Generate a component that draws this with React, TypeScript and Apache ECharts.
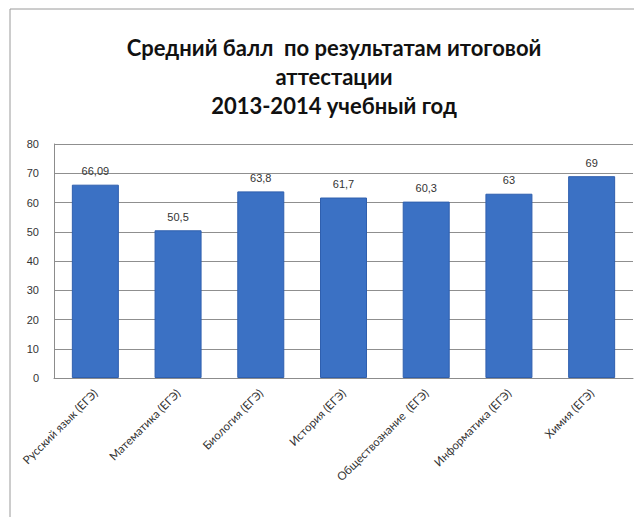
import React, { useEffect, useRef } from "react";
import * as echarts from "echarts";

const categories = [
  "Русский язык (ЕГЭ)",
  "Математика (ЕГЭ)",
  "Биология (ЕГЭ)",
  "История (ЕГЭ)",
  "Обществознание  (ЕГЭ)",
  "Информатика (ЕГЭ)",
  "Химия (ЕГЭ)",
];
const values = [66.09, 50.5, 63.8, 61.7, 60.3, 63, 69];
const valueLabels = ["66,09", "50,5", "63,8", "61,7", "60,3", "63", "69"];
const titleLines = [
  "Средний балл  по результатам итоговой",
  "аттестации",
  "2013-2014 учебный год",
];

export default function App() {
  const ref = useRef<HTMLDivElement>(null);
  useEffect(() => {
    document.body.style.margin = "0";
    const chart = echarts.init(ref.current!, null, { renderer: "svg" });
    chart.setOption({
      animation: false,
      backgroundColor: "#ffffff",
      title: {
        text: titleLines.join("\n"),
        left: 329,
        top: 28,
        textAlign: "center",
        textStyle: {
          fontFamily: "Lato",
          fontWeight: "bold",
          fontSize: 22,
          lineHeight: 29,
          color: "#111111",
        },
      },
      graphic: [
        {
          type: "polyline",
          shape: { points: [[10, 517], [10, 9], [634, 9]] },
          style: { stroke: "#9a9a9a", lineWidth: 1, fill: "none" },
          silent: true,
        },
      ],
      grid: { left: 54, right: 1, top: 144, bottom: 139 },
      xAxis: {
        type: "category",
        data: categories,
        axisLine: { show: true, lineStyle: { color: "#8c8c8c" } },
        axisTick: { show: false },
        axisLabel: {
          rotate: 45,
          interval: 0,
          margin: 13,
          fontFamily: "Lato",
          fontSize: 11.5,
          color: "#333333",
        },
      },
      yAxis: {
        type: "value",
        min: 0,
        max: 80,
        interval: 10,
        axisLine: { show: true, lineStyle: { color: "#8c8c8c" } },
        axisTick: { show: false },
        axisLabel: {
          margin: 15,
          fontFamily: "Liberation Sans",
          fontSize: 11,
          color: "#333333",
        },
        splitLine: { show: true, lineStyle: { color: "#8f8f8f", width: 1 } },
      },
      series: [
        {
          type: "bar",
          data: values,
          barWidth: 47,
          itemStyle: { color: "#3b71c4", borderColor: "#2f5fae", borderWidth: 1 },
          label: {
            show: true,
            position: "top",
            distance: 8,
            fontFamily: "Liberation Sans",
            fontSize: 11,
            color: "#333333",
            formatter: (p: any) => valueLabels[p.dataIndex],
          },
        },
      ],
    });
    return () => chart.dispose();
  }, []);
  return (
    <div
      ref={ref}
      style={{ position: "absolute", left: 0, top: 0, width: 634, height: 517 }}
    />
  );
}
